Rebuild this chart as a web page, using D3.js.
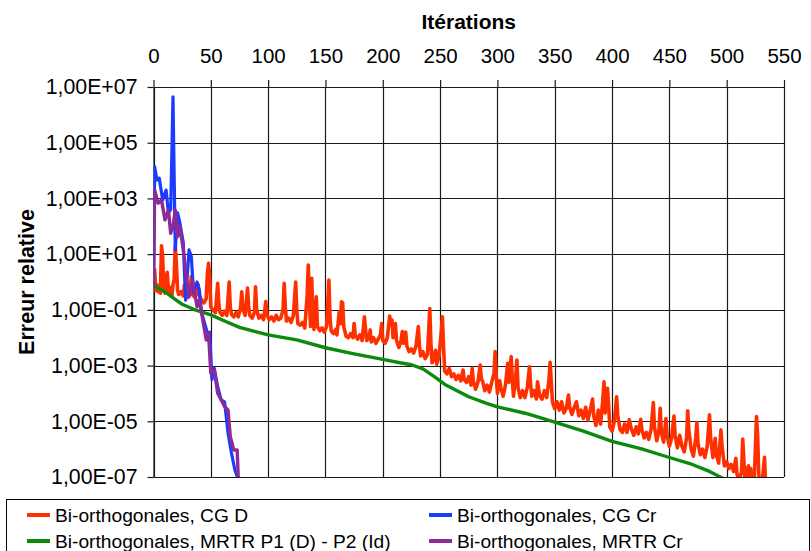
<!DOCTYPE html>
<html>
<head>
<meta charset="utf-8">
<script src="https://cdn.jsdelivr.net/npm/d3@7"></script>
<style>
  body { margin: 0; background: #fff; }
  svg { display: block; font-family: "Liberation Sans", Arial, sans-serif; }
</style>
</head>
<body>
<svg class="chart" width="811" height="551"></svg>
<script>
// values are given as [iteration, log10(relative error)]
var cgD = [[0,-0.25],[1,0.45],[2,-0.3],[3,-0.1],[4,-0.35],[5,-0.2],[6,-0.4],[7,1.3],[8,0.9],[9,-0.3],[10,-0.4],[11,0.1],[12,0.35],[13,-0.3],[14,-0.45],[15,-0.2],[16,-0.5],[17,-0.1],[18,0.1],[19,1.3],[20,0.6],[21,-0.3],[22,-0.45],[24,-0.35],[26,-0.5],[27,-0.1],[28,-0.45],[30,-0.55],[32,-0.3],[33,0.2],[34,-0.45],[36,-0.55],[38,-0.35],[39,-0.1],[40,-0.5],[42,-0.65],[44,-0.75],[46,-0.6],[47,0.3],[48,0.67],[49,0.2],[50,-0.9],[52,-1.0],[54,-1.1],[56,-0.05],[57,-0.8],[58,-1.1],[60,-1.2],[62,-1.05],[64,-1.2],[66,0.0],[67,-0.9],[68,-1.15],[70,-1.25],[72,-1.1],[74,-1.25],[76,-0.9],[77,-0.35],[78,-1.0],[80,-1.2],[82,-0.22],[83,-0.9],[84,-1.2],[86,-1.3],[88,-1.1],[89,-0.17],[90,-1.0],[92,-1.3],[94,-1.2],[96,-1.35],[98,-0.7],[99,-1.2],[101,-1.35],[103,-1.25],[105,-1.4],[107,-1.2],[109,-1.35],[111,-1.3],[113,-1.0],[114,-0.05],[115,-0.9],[116,-1.4],[118,-1.3],[120,-1.45],[122,-1.2],[124,0.0],[125,-1.0],[126,-1.5],[128,-1.55],[130,-1.45],[132,-1.65],[134,-0.5],[135,0.61],[136,-0.6],[137,-1.6],[138,0.13],[139,-1.2],[140,-1.7],[142,-0.53],[143,-1.6],[145,-1.75],[147,-1.65],[149,-1.8],[151,-1.6],[153,0.07],[154,-1.3],[155,-1.75],[157,-1.85],[159,-1.7],[160,-1.9],[162,-1.07],[163,-1.5],[164,-0.71],[165,-0.75],[166,-1.6],[168,-1.95],[170,-2.0],[172,-1.85],[174,-2.0],[175,-1.49],[176,-1.9],[178,-2.05],[180,-1.9],[182,-2.1],[184,-1.25],[185,-1.7],[186,-2.1],[188,-2.0],[189,-1.72],[190,-2.15],[192,-2.0],[194,-2.2],[196,-2.05],[198,-1.9],[199,-1.49],[200,-2.1],[202,-2.2],[204,-2.0],[206,-1.22],[207,-1.5],[208,-1.36],[209,-2.0],[211,-1.49],[212,-2.1],[214,-2.35],[216,-2.1],[217,-1.78],[218,-2.2],[220,-1.8],[221,-2.3],[223,-2.5],[225,-2.4],[227,-2.55],[229,-2.3],[231,-1.6],[232,-2.3],[233,-2.65],[235,-2.5],[237,-2.75],[239,-2.6],[241,-0.95],[242,-2.2],[243,-2.9],[245,-2.7],[246,-2.45],[247,-2.95],[249,-2.7],[251,-1.8],[252,-1.25],[253,-2.3],[254,-3.2],[256,-3.3],[258,-3.1],[260,-3.4],[262,-3.3],[264,-3.5],[266,-3.35],[268,-3.55],[270,-3.16],[271,-3.5],[273,-3.6],[275,-3.4],[277,-3.7],[278,-3.1],[279,-3.55],[281,-3.85],[283,-3.6],[285,-2.98],[286,-3.5],[287,-3.55],[289,-3.9],[291,-3.7],[293,-3.95],[295,-3.6],[297,-3.3],[298,-2.5],[299,-3.4],[300,-4.0],[302,-3.55],[303,-3.8],[305,-4.1],[307,-3.7],[309,-2.92],[310,-3.6],[312,-2.68],[313,-3.5],[314,-4.1],[316,-3.4],[317,-2.8],[318,-3.8],[320,-4.15],[322,-3.9],[324,-4.15],[326,-3.8],[328,-3.04],[329,-3.7],[330,-4.1],[332,-3.9],[334,-4.2],[335,-3.58],[337,-4.1],[339,-4.2],[341,-3.9],[343,-4.15],[345,-3.5],[346,-2.88],[347,-3.6],[348,-4.3],[350,-4.55],[352,-4.3],[354,-4.6],[356,-4.3],[358,-4.7],[360,-4.55],[362,-4.06],[363,-4.5],[365,-4.75],[367,-4.5],[369,-4.3],[371,-4.8],[373,-4.6],[375,-4.9],[377,-4.5],[379,-4.95],[381,-4.6],[383,-4.2],[384,-4.8],[386,-5.15],[388,-4.6],[390,-5.1],[392,-4.2],[393,-3.58],[394,-4.7],[396,-3.82],[397,-4.4],[398,-5.2],[400,-5.35],[402,-5.0],[404,-4.12],[405,-4.8],[407,-5.3],[409,-5.4],[411,-5.1],[413,-5.4],[415,-4.95],[417,-5.3],[419,-5.5],[421,-5.2],[423,-5.45],[425,-4.93],[426,-5.3],[428,-5.6],[430,-5.4],[432,-5.65],[434,-5.3],[436,-4.33],[437,-5.2],[439,-5.7],[441,-5.3],[442,-4.53],[443,-5.4],[445,-5.75],[447,-4.9],[448,-5.5],[450,-5.9],[452,-5.6],[454,-4.81],[455,-5.5],[457,-5.95],[459,-5.5],[461,-5.9],[463,-6.1],[465,-5.6],[466,-4.62],[467,-5.3],[469,-6.0],[471,-6.25],[473,-5.6],[474,-5.05],[475,-5.8],[477,-6.2],[479,-6.0],[481,-6.3],[483,-5.9],[485,-4.77],[486,-5.6],[488,-6.3],[490,-5.61],[491,-6.2],[493,-6.5],[495,-5.31],[496,-5.9],[498,-6.6],[500,-6.45],[502,-6.7],[504,-6.55],[506,-6.8],[508,-6.33],[509,-6.9],[511,-7.1],[513,-6.8],[514,-5.64],[515,-6.4],[516,-7.2],[518,-6.7],[519,-6.6],[520,-7.2],[521,-6.7],[522,-7.1],[524,-7.2],[526,-4.83],[527,-5.5],[528,-6.9],[529,-7.3],[531,-7.2],[533,-6.29],[534,-7.4]];

var cgCr = [[0,0.0],[1,4.14],[3,3.66],[5,3.73],[8,2.94],[11,3.3],[13,2.48],[15,2.6],[17,6.65],[19,1.15],[21,2.48],[23,2.12],[26,1.4],[28,-0.65],[31,1.15],[33,0.91],[35,-0.4],[38,0.0],[40,-0.29],[42,-1.1],[45,-1.54],[47,-1.83],[49,-1.8],[51,-3.5],[53,-3.1],[56,-3.76],[59,-4.23],[62,-4.3],[65,-5.42],[68,-6.14],[71,-6.75],[74,-7.1]];

var mrtrD = [[0,-0.05],[3,-0.2],[10,-0.35],[18,-0.6],[25,-0.8],[35,-0.98],[50,-1.18],[62,-1.4],[75,-1.63],[100,-1.9],[125,-2.08],[150,-2.36],[175,-2.58],[200,-2.78],[215,-2.9],[225,-2.97],[235,-3.12],[245,-3.4],[255,-3.7],[275,-4.12],[290,-4.35],[300,-4.48],[325,-4.72],[350,-5.03],[375,-5.35],[400,-5.72],[425,-5.98],[450,-6.3],[470,-6.55],[485,-6.8],[497,-7.05]];

var mrtrCr = [[0,-0.2],[1,3.3],[4,2.83],[7,2.94],[10,2.23],[13,2.58],[15,1.75],[17,1.99],[19,2.58],[21,1.63],[23,1.99],[26,1.15],[29,0.07],[31,-0.53],[34,0.07],[36,-0.4],[38,-0.89],[40,-0.65],[43,-1.36],[46,-2.08],[48,-1.83],[50,-3.27],[53,-3.16],[56,-3.99],[59,-4.23],[62,-4.47],[65,-4.59],[67,-5.55],[70,-6.03],[73,-6.03],[74,-7.1]];

var seriesNames = ["Bi-orthogonales, CG D", "Bi-orthogonales, CG Cr", "Bi-orthogonales, MRTR P1 (D) - P2 (Id)", "Bi-orthogonales, MRTR Cr"];
var seriesColors = ["#ff3000", "#1a3cff", "#0b8a0b", "#8e2a98"];
var xTicks = [0, 50, 100, 150, 200, 250, 300, 350, 400, 450, 500, 550];
var yTickExps = [7, 5, 3, 1, -1, -3, -5, -7];
var yTickLabels = ["1,00E+07", "1,00E+05", "1,00E+03", "1,00E+01", "1,00E-01", "1,00E-03", "1,00E-05", "1,00E-07"];

function drawChart() {
  var svg = d3.select(".chart"),
      pl = 153.5, pr = 784, pt = 87, pb = 477;

  var x = d3.scaleLinear().domain([0, 550]).range([pl, pr]);
  var y = d3.scaleLog().domain([1e-7, 1e7]).range([pb, pt]);

  svg.append("defs").append("clipPath").attr("id", "plotclip")
    .append("rect")
      .attr("x", pl).attr("y", pt)
      .attr("width", pr - pl).attr("height", pb - pt);

  // grid
  var grid = svg.append("g").attr("stroke", "#1a1a1a").attr("stroke-width", 1.2);
  grid.selectAll(".vg").data(xTicks).enter().append("line")
      .attr("x1", function(d) { return Math.round(x(d)) + 0.5; })
      .attr("x2", function(d) { return Math.round(x(d)) + 0.5; })
      .attr("y1", pt).attr("y2", pb);
  grid.selectAll(".hg").data(yTickExps).enter().append("line")
      .attr("x1", pl).attr("x2", pr)
      .attr("y1", function(d) { return Math.round(y(Math.pow(10, d))) + 0.5; })
      .attr("y2", function(d) { return Math.round(y(Math.pow(10, d))) + 0.5; });

  // axes
  var xAxis = svg.append("g")
      .attr("transform", "translate(0," + pt + ")")
      .call(d3.axisTop(x).tickValues(xTicks).tickSize(7).tickSizeOuter(0).tickPadding(17));
  var yAxis = svg.append("g")
      .attr("transform", "translate(" + pl + ",0)")
      .call(d3.axisLeft(y).tickValues(yTickExps.map(function(e) { return Math.pow(10, e); }))
        .tickFormat(function(d, i) { return yTickLabels[i]; })
        .tickSize(6).tickSizeOuter(0).tickPadding(10));
  [xAxis, yAxis].forEach(function(a) {
    a.attr("font-family", null).attr("font-size", 20.5);
    a.selectAll("line, path").attr("stroke", "#1a1a1a").attr("stroke-width", 1.2);
    a.selectAll("text").attr("fill", "#000");
  });
  yAxis.attr("font-size", 21.3);

  svg.append("text")
      .attr("x", (pl + pr) / 2).attr("y", 29)
      .attr("text-anchor", "middle")
      .attr("font-weight", "bold").attr("font-size", 21)
      .text("Itérations");

  svg.append("text")
      .attr("transform", "translate(34," + (pt + pb) / 2 + ") rotate(-90)")
      .attr("text-anchor", "middle")
      .attr("font-weight", "bold").attr("font-size", 21.5)
      .text("Erreur relative");

  // series
  var line = d3.line()
      .x(function(d) { return x(d[0]); })
      .y(function(d) { return y(Math.pow(10, d[1])); });

  var widths = [3.6, 3.2, 3.4, 3.4];
  var plot = svg.append("g").attr("clip-path", "url(#plotclip)");
  [cgD, cgCr, mrtrD, mrtrCr].forEach(function(data, i) {
    plot.append("path")
        .datum(data)
        .attr("fill", "none")
        .attr("stroke", seriesColors[i])
        .attr("stroke-width", widths[i])
        .attr("stroke-linejoin", "round")
        .attr("stroke-linecap", "round")
        .attr("d", line);
  });

  // legend
  var legend = svg.append("g");
  legend.append("rect")
      .attr("x", 6.5).attr("y", 499.5).attr("width", 803).attr("height", 70)
      .attr("fill", "#fff").attr("stroke", "#000").attr("stroke-width", 1);

  var lx = [27, 429], ly = [515, 541];
  seriesNames.forEach(function(name, i) {
    var cx = lx[i % 2], cy = ly[Math.floor(i / 2)];
    legend.append("line")
        .attr("x1", cx).attr("x2", cx + 23)
        .attr("y1", cy).attr("y2", cy)
        .attr("stroke", seriesColors[i]).attr("stroke-width", 4);
    legend.append("text")
        .attr("x", cx + 28).attr("y", cy + 7)
        .attr("font-size", 19.2)
        .text(name);
  });
}
drawChart();
</script>
</body>
</html>
